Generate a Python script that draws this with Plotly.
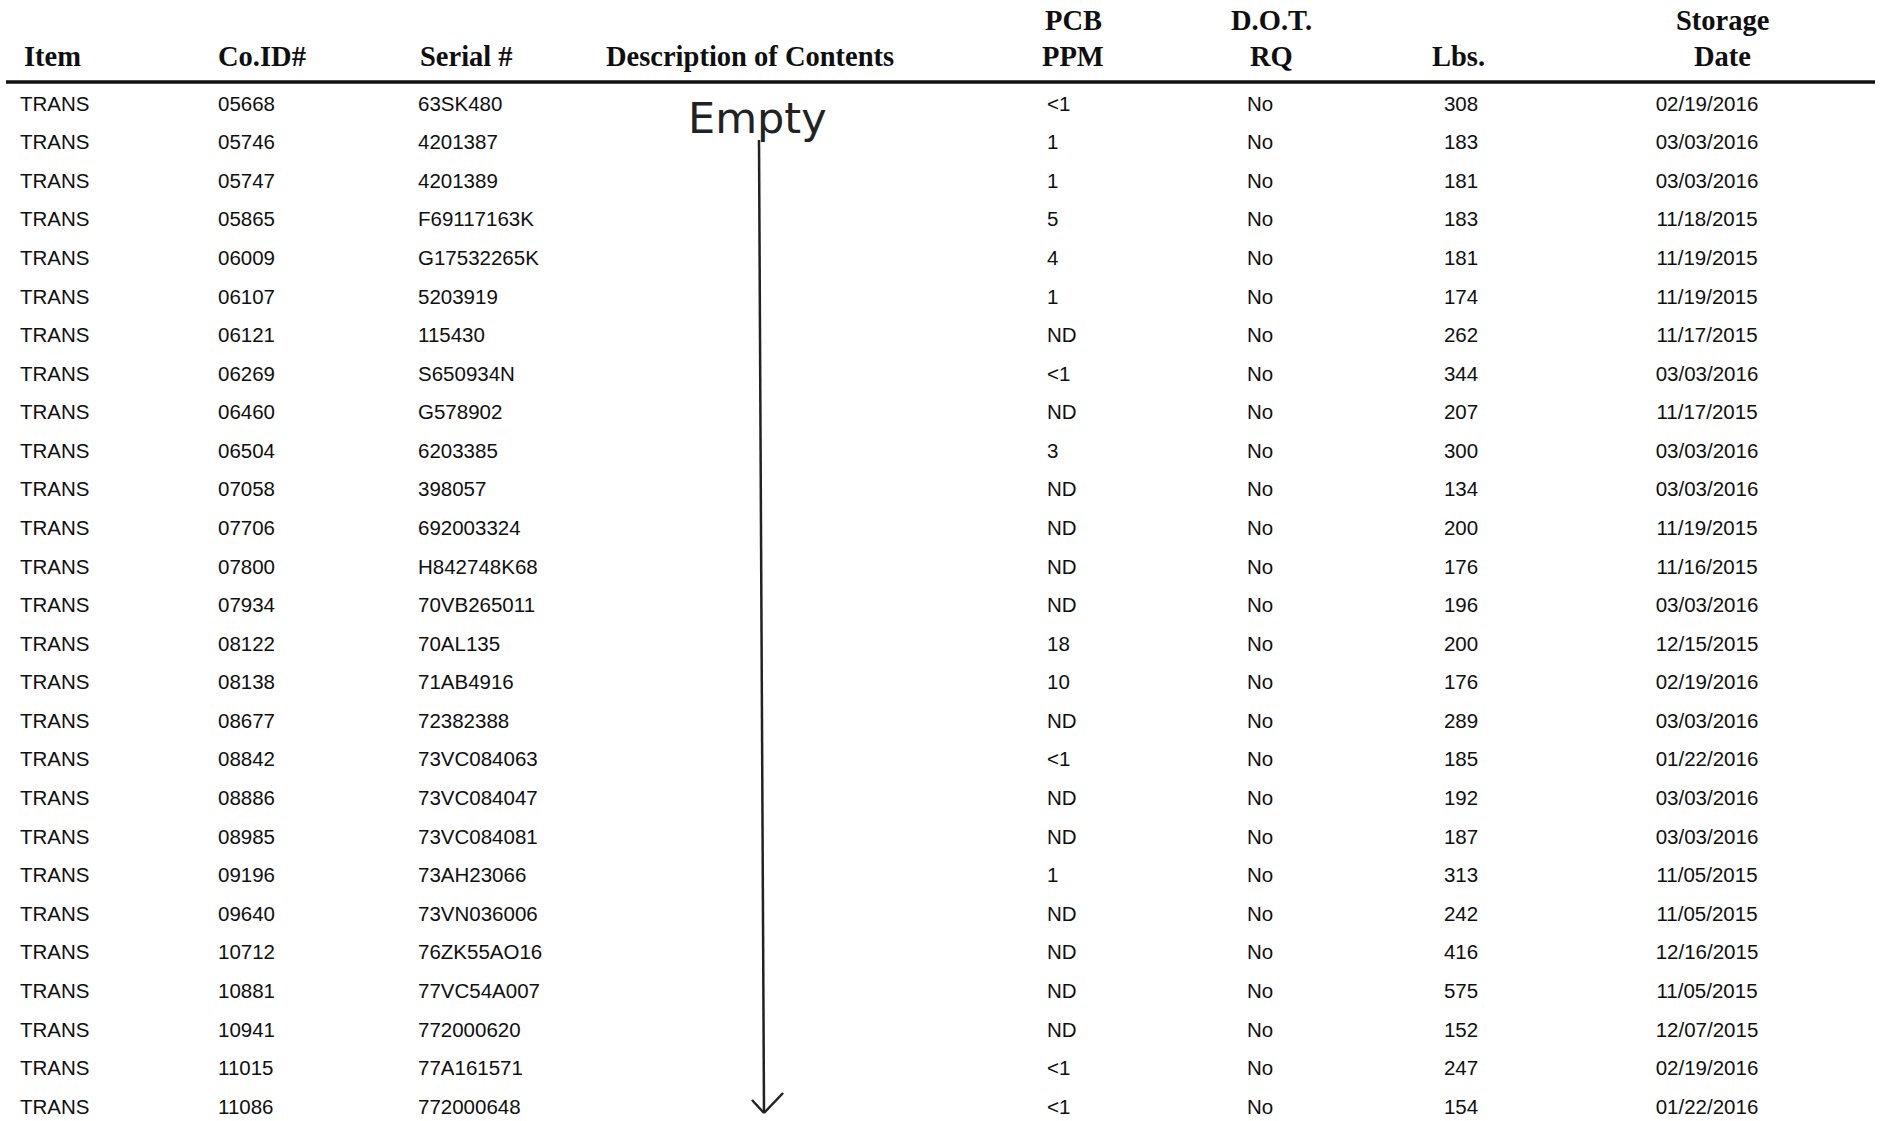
import plotly.graph_objects as go

# ---------------- data ----------------
items = ["TRANS"] * 27
co_ids = ["05668", "05746", "05747", "05865", "06009", "06107", "06121", "06269", "06460",
          "06504", "07058", "07706", "07800", "07934", "08122", "08138", "08677", "08842",
          "08886", "08985", "09196", "09640", "10712", "10881", "10941", "11015", "11086"]
serials = ["63SK480", "4201387", "4201389", "F69117163K", "G17532265K", "5203919", "115430",
           "S650934N", "G578902", "6203385", "398057", "692003324", "H842748K68", "70VB265011",
           "70AL135", "71AB4916", "72382388", "73VC084063", "73VC084047", "73VC084081",
           "73AH23066", "73VN036006", "76ZK55AO16", "77VC54A007", "772000620", "77A161571",
           "772000648"]
pcb_ppm = ["<1", "1", "1", "5", "4", "1", "ND", "<1", "ND", "3", "ND", "ND", "ND", "ND", "18",
           "10", "ND", "<1", "ND", "ND", "1", "ND", "ND", "ND", "ND", "<1", "<1"]
dot_rq = ["No"] * 27
lbs = [308, 183, 181, 183, 181, 174, 262, 344, 207, 300, 134, 200, 176, 196, 200, 176, 289,
       185, 192, 187, 313, 242, 416, 575, 152, 247, 154]
storage_dates = ["02/19/2016", "03/03/2016", "03/03/2016", "11/18/2015", "11/19/2015",
                 "11/19/2015", "11/17/2015", "03/03/2016", "11/17/2015", "03/03/2016",
                 "03/03/2016", "11/19/2015", "11/16/2015", "03/03/2016", "12/15/2015",
                 "02/19/2016", "03/03/2016", "01/22/2016", "03/03/2016", "03/03/2016",
                 "11/05/2015", "11/05/2015", "12/16/2015", "11/05/2015", "12/07/2015",
                 "02/19/2016", "01/22/2016"]

header_top = ["", "", "", "", "PCB", "D.O.T.", "", "Storage"]
header_bottom = ["Item", "Co.ID#", "Serial #", "Description of Contents", "PPM", "RQ", "Lbs.", "Date"]
handwritten_note = "Empty"

# ---------------- layout helpers ----------------
W, H = 1881, 1121
ROW0_PX, ROW_STEP = 105.5, 38.58


def py(px):
    """pixel row -> y axis value (row index units)"""
    return (px - ROW0_PX) / ROW_STEP


rows = list(range(len(co_ids)))
BODY_FONT = dict(family="Liberation Sans, Arial, sans-serif", size=20.5, color="#0f0f0f")
HEAD_FONT = dict(family="Liberation Serif, Times New Roman, serif", size=28.5, color="#0f0f0f")

fig = go.Figure()

columns = [
    (items, 20, "middle right"),
    (co_ids, 218, "middle right"),
    (serials, 418, "middle right"),
    (pcb_ppm, 1047, "middle right"),
    (dot_rq, 1260, "middle center"),
    ([str(v) for v in lbs], 1461, "middle center"),
    (storage_dates, 1707, "middle center"),
]
for values, xpos, tpos in columns:
    fig.add_trace(go.Scatter(
        x=[xpos] * len(values), y=rows, text=values, mode="text",
        textposition=tpos, textfont=BODY_FONT, hoverinfo="skip", showlegend=False,
    ))

# headers
head_x = [22, 216, 418, 604, 1073, 1271, 1458, 1722]
head_anchor = ["left", "left", "left", "left", "center", "center", "center", "center"]
annotations = []
for txt_top, txt_bot, hx, anc in zip(header_top, header_bottom, head_x, head_anchor):
    if txt_top:
        annotations.append(dict(x=hx, y=py(20), xref="x", yref="y", text="<b>%s</b>" % txt_top,
                                showarrow=False, xanchor=anc, yanchor="middle", font=HEAD_FONT))
    annotations.append(dict(x=hx, y=py(56), xref="x", yref="y", text="<b>%s</b>" % txt_bot,
                            showarrow=False, xanchor=anc, yanchor="middle", font=HEAD_FONT))

# handwritten note
annotations.append(dict(x=686, y=py(118), xref="x", yref="y", text=handwritten_note,
                        showarrow=False, xanchor="left", yanchor="middle",
                        font=dict(family="DejaVu Sans, sans-serif", size=43, color="#222222")))

shapes = [
    # header rule
    dict(type="line", x0=6, x1=1875, y0=py(82), y1=py(82), xref="x", yref="y",
         line=dict(color="#111111", width=3.5)),
    # hand-drawn arrow shaft
    dict(type="line", x0=759, x1=764, y0=py(140), y1=py(1112), xref="x", yref="y",
         line=dict(color="#222222", width=2.5)),
    # arrow head
    dict(type="line", x0=752, x1=764, y0=py(1100), y1=py(1113), xref="x", yref="y",
         line=dict(color="#222222", width=2.5)),
    dict(type="line", x0=764, x1=783, y0=py(1113), y1=py(1093), xref="x", yref="y",
         line=dict(color="#222222", width=2.5)),
]

fig.update_layout(
    width=W, height=H,
    margin=dict(l=0, r=0, t=0, b=0),
    paper_bgcolor="white", plot_bgcolor="white",
    xaxis=dict(range=[0, W], visible=False, fixedrange=True),
    yaxis=dict(range=[py(H), py(0)], visible=False, fixedrange=True),
    annotations=annotations, shapes=shapes,
    showlegend=False,
)

fig.write_html("out.html", config={"displayModeBar": False},
               post_script="document.body.style.margin='0';")
